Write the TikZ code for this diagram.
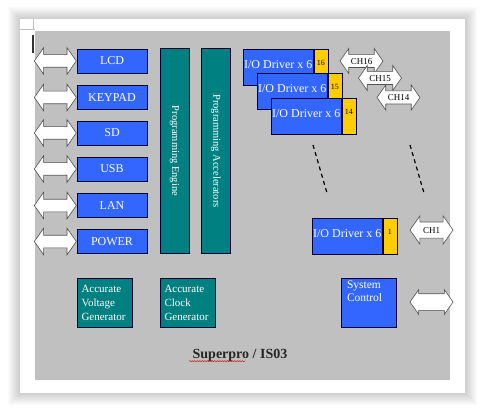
\documentclass[tikz,border=0pt]{standalone}
\usepackage{fontspec}
\setmainfont{Liberation Serif}
\usetikzlibrary{arrows.meta,positioning,shapes.arrows,decorations.pathmorphing}
\definecolor{boardgray}{RGB}{192,192,192}
\definecolor{chipblue}{RGB}{51,102,255}
\definecolor{chipteal}{RGB}{0,128,128}
\definecolor{chipyellow}{RGB}{255,204,0}
\definecolor{arrowgray}{RGB}{80,80,80}

\begin{document}
\begin{tikzpicture}[x=1pt,y=-1pt,
  chip/.style={draw=black!80!blue,line width=0.6pt,inner sep=0pt,text=white,font=\fontsize{12}{14}\selectfont},
  portbox/.style={chip,fill=chipblue,minimum width=70pt,minimum height=24pt},
  enginebar/.style={chip,fill=chipteal,rotate=-90,minimum width=205pt,minimum height=29pt,font=\fontsize{10.5}{12}\selectfont},
  genbox/.style={chip,fill=chipteal,minimum width=55pt,minimum height=49pt,text width=46pt,align=left,font=\fontsize{11}{14}\selectfont},
  drvbox/.style={chip,fill=chipblue,minimum width=70pt,minimum height=36pt,text height=8pt,text depth=6pt},
  drvnum/.style={chip,fill=chipyellow,text=black,minimum width=14pt,minimum height=36pt,font=\fontsize{8}{9}\selectfont,text height=6pt,text depth=10pt},
  portarrow/.style={double arrow,draw=arrowgray,fill=white,line width=0.6pt,inner xsep=0pt,inner ysep=6pt,minimum height=42pt,double arrow head extend=7pt,double arrow tip angle=110},
  charrow/.style={portarrow,inner ysep=3pt,text height=6.5pt,text depth=0pt,minimum height=43pt,double arrow head extend=6pt,font=\fontsize{9}{10}\selectfont},
  gap/.style={dash pattern=on 4pt off 3.5pt,line width=1.2pt}
]
\useasboundingbox (0,0) rectangle (484,414);
\fill[white] (0,0) rectangle (484,414);
\foreach \i in {1,...,12} \fill[black,opacity=0.015] (20-\i,19-\i) rectangle (465+\i,393+\i);
\fill[white] (20,19) rectangle (465,393);
\draw[black!25,line width=0.5pt] (20,29) -- (35,29) (33,19) -- (33,29);
\fill[boardgray] (35,31) rectangle (450,380);
\draw[black!80,line width=1.5pt] (33,35) -- (33,53);

\foreach \lbl/\y [count=\i] in {LCD/61,KEYPAD/97.5,SD/133,USB/169,LAN/205.5,POWER/241.5} {
  \node[portbox] (port\i) at (112,\y) {\lbl};
  \node[portarrow,left=0pt of port\i] (link\i) {};
}

\node[enginebar] (engine) at (174.5,151) {Programming Engine};
\node[enginebar] (accel) at (216,151) {Programming Accelerators};

\node[genbox] (voltgen) at (104.5,302.5) {Accurate\\Voltage\\Generator};
\node[genbox] (clockgen) at (187.5,302.5) {Accurate\\Clock\\Generator};

\foreach \k/\x/\y in {16/243/49,15/257/73,14/271/98} {
  \node[drvbox,anchor=north west] (drv\k) at (\x,\y) {I/O Driver x 6};
  \node[drvnum,right=0pt of drv\k] (num\k) {\k};
}
\node[drvbox,anchor=north west] (drv1) at (312,218) {I/O Driver x 6};
\node[drvnum,right=0pt of drv1] (num1) {1};

\node[charrow] (ch16) at (361.5,61) {CH16};
\node[charrow] (ch15) at (380,78) {CH15};
\node[charrow] (ch14) at (398.5,97.5) {CH14};
\node[charrow,inner ysep=4.5pt] (ch1) at (431.5,230) {CH1};

\coordinate (gapA1) at (313,145);
\coordinate (gapA2) at (327,193);
\coordinate (gapB1) at (410,145);
\coordinate (gapB2) at (424,193);
\draw[gap] (gapA1) -- (gapA2);
\draw[gap] (gapB1) -- (gapB2);

\node[chip,fill=chipblue,minimum width=55pt,minimum height=49pt] (sysctrl) at (368.5,302.5) {};
\node[chip,draw=none,anchor=north west,align=left,font=\fontsize{11.5}{13}\selectfont] (sysctrltext) at ([xshift=6pt,yshift=-3pt]sysctrl.north west) {System\\Control};
\node[portarrow,inner ysep=8pt,minimum height=43pt,double arrow head extend=4pt] (ctrllink) at (431.5,302) {};

\node[font=\bfseries\fontsize{14}{16}\selectfont,text=black!85] (title) at (240,355) {Superpro / IS03};
\draw[red!80!black,line width=0.4pt,decorate,decoration={snake,amplitude=0.6pt,segment length=2.5pt}]
  ([yshift=-3pt]title.base west) -- +(56,0);
\end{tikzpicture}
\end{document}
